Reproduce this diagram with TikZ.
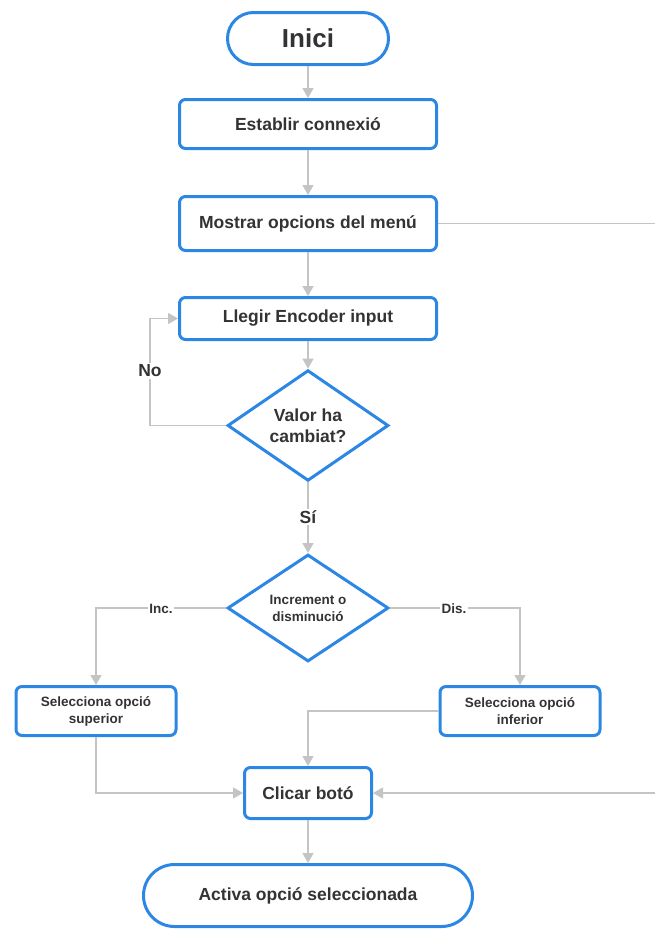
\documentclass[tikz,border=0pt]{standalone}
\usepackage{fontspec}
\setmainfont{Liberation Sans}
\usetikzlibrary{shapes.geometric,arrows.meta}
\definecolor{bl}{HTML}{2B87E3}
\definecolor{ln}{HTML}{C4C4C4}
\definecolor{tx}{HTML}{333333}
\begin{document}
\begin{tikzpicture}[x=1pt,y=-1pt,
  big/.style={font=\bfseries\fontsize{17.5}{21}\selectfont},
  small/.style={font=\bfseries\fontsize{13.5}{17}\selectfont},
  shp/.style={draw=bl, line width=3pt, fill=white, text=tx, inner sep=0pt, align=center},
  box/.style={shp, rectangle, rounded corners=6pt},
  term/.style={shp, rectangle, rounded corners=#1},
  dia/.style={shp, diamond},
  conn/.style={draw=ln, line width=1.4pt, -{Triangle[length=10pt,width=11pt]}},
  plain/.style={draw=ln, line width=1.4pt},
  lab/.style={fill=white, text=tx, inner sep=1.5pt}
]
\useasboundingbox (0,0) rectangle (655,929);
\clip (0,0) rectangle (655,929);

\node[term=26pt, minimum width=161, minimum height=52, font=\bfseries\fontsize{26}{30}\selectfont] (ini) at (308,38.5) {Inici};
\node[box, big, minimum width=257, minimum height=49] (est) at (308,124) {Establir connexió};
\node[box, big, minimum width=257, minimum height=54] (mos) at (308,223.5) {Mostrar opcions del menú};
\node[box, big, minimum width=257, minimum height=42] (lle) at (308,318.5) {Llegir Encoder input};
\node[dia, big, minimum width=161, minimum height=106] (d1) at (308,425.5) {Valor ha\\cambiat?};
\node[dia, small, minimum width=161, minimum height=107] (d2) at (308,608) {Increment o\\disminució};
\node[box, small, minimum width=160, minimum height=49] (sup) at (96,711) {Selecciona opció\\superior};
\node[box, small, minimum width=160, minimum height=49] (inf) at (520,711) {Selecciona opció\\inferior};
\node[box, big, minimum width=127, minimum height=51] (cli) at (308,793) {Clicar botó};
\node[term=31pt, big, minimum width=329, minimum height=62] (act) at (308,895.5) {Activa opció seleccionada};

\coordinate (lp) at (150,425.5);
\coordinate (rt) at (690,500);

\draw[conn] (ini) -- (est);
\draw[conn] (est) -- (mos);
\draw[conn] (mos) -- (lle);
\draw[conn] (lle) -- (d1);
\draw[conn] (d1.west) -- (lp) |- (lle.west);
\draw[conn] (d1) -- (d2);
\draw[conn] (d2.west) -| (sup.north);
\draw[conn] (d2.east) -| (inf.north);
\draw[conn] (inf.west) -| (cli.north);
\draw[conn] (sup.south) |- (cli.west);
\draw[plain] (mos.east) -| (rt);
\draw[conn] (rt) |- (cli.east);
\draw[conn] (cli) -- (act);

\node[lab, big] (no) at (150,371) {No};
\node[lab, big] (si) at (308,517) {Sí};
\node[lab, small] (inc) at (161,609) {Inc.};
\node[lab, small] (dis) at (454,609) {Dis.};
\end{tikzpicture}
\end{document}
